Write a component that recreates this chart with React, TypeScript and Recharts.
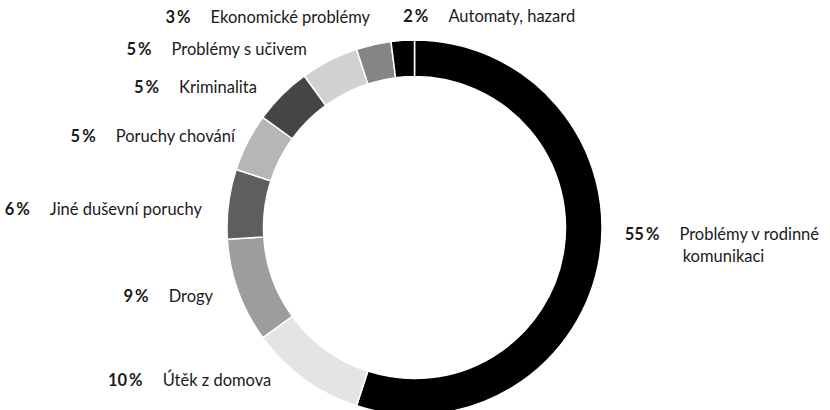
import React from "react";
import { PieChart, Pie, Cell } from "recharts";

// ---- data ----
const categories = [
  "Problémy v rodinné komunikaci",
  "Útěk z domova",
  "Drogy",
  "Jiné duševní poruchy",
  "Poruchy chování",
  "Kriminalita",
  "Problémy s učivem",
  "Ekonomické problémy",
  "Automaty, hazard",
];
const shares = [55, 10, 9, 6, 5, 5, 5, 3, 2];
const labelLines = [
  ["Problémy v rodinné", "komunikaci"],
  ["Útěk z domova"],
  ["Drogy"],
  ["Jiné duševní poruchy"],
  ["Poruchy chování"],
  ["Kriminalita"],
  ["Problémy s učivem"],
  ["Ekonomické problémy"],
  ["Automaty, hazard"],
];

// ---- style / layout ----
const COLORS = ["#000000", "#e4e4e4", "#9d9d9d", "#5e5e5d", "#b5b6b7", "#454545", "#d1d1d1", "#858585", "#000000"];
const LABEL_SIDE = ["right", "left", "left", "left", "left", "left", "left", "left", "right"];
// offset of label anchor from slice's outer mid-point
const LABEL_OFFSETS: [number, number][] = [
  [25, -17],
  [-33, 7],
  [-25, 11],
  [-26.5, 11],
  [-12.5, 0],
  [-25, -2],
  [-22.5, -5.5],
  [-3.5, -21.5],
  [0.5, -18.5],
];

const data = categories.map((name, i) => ({ name, value: shares[i] }));
const RAD = Math.PI / 180;
const FONT = "Lato, 'Open Sans', sans-serif";

function renderLabel(props: any) {
  const { cx, cy, midAngle, outerRadius, index } = props;
  const mx = cx + outerRadius * Math.cos(-midAngle * RAD);
  const my = cy + outerRadius * Math.sin(-midAngle * RAD);
  const [ox, oy] = LABEL_OFFSETS[index];
  const x = mx + ox;
  const y = my + oy;
  const side = LABEL_SIDE[index];
  const lines = labelLines[index];
  const pct = `${shares[index]}\u2009%`;
  return (
    <g key={`lbl-${index}`}>
      <text
        x={x}
        y={y}
        textAnchor={side === "right" ? "start" : "end"}
        fontFamily={FONT}
        fontSize={16.5}
        fill="#1c1a1a"
      >
        <tspan fontWeight={700}>{pct}</tspan>
        <tspan dx={20}>{lines[0]}</tspan>
      </text>
      {lines.slice(1).map((l, i) => (
        <text
          key={i}
          x={x + 58}
          y={y + 22 * (i + 1)}
          textAnchor="start"
          fontFamily={FONT}
          fontSize={16.5}
          fill="#1c1a1a"
        >
          {l}
        </text>
      ))}
    </g>
  );
}

export default function App() {
  return (
    <div style={{ width: 830, height: 410, background: "#fff" }}>
      <style>{`body{margin:0;}`}</style>
      <PieChart width={830} height={410} margin={{ top: 0, right: 0, bottom: 0, left: 0 }}>
        <Pie
          data={data}
          dataKey="value"
          nameKey="name"
          cx={414.5}
          cy={227.5}
          outerRadius={187.5}
          innerRadius={151}
          startAngle={90}
          endAngle={-270}
          stroke="#ffffff"
          strokeWidth={1.5}
          label={renderLabel}
          labelLine={false}
          isAnimationActive={false}
        >
          {data.map((d, i) => (
            <Cell key={d.name} fill={COLORS[i]} />
          ))}
        </Pie>
      </PieChart>
    </div>
  );
}
